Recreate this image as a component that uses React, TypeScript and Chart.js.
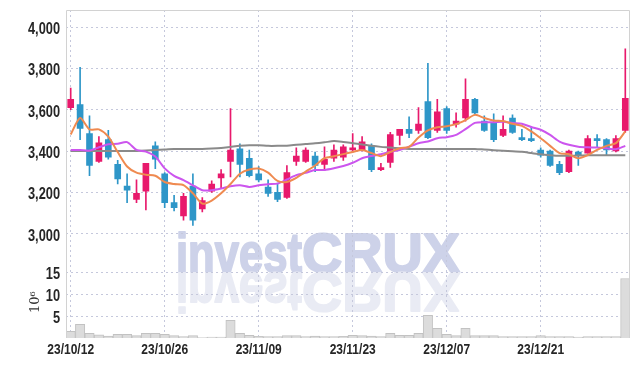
import React, { useEffect, useRef } from 'react';
import { Chart, registerables } from 'chart.js';

Chart.register(...registerables);

const dates = [
  '23/10/12', '23/10/13', '23/10/16', '23/10/17', '23/10/18', '23/10/19', '23/10/20', '23/10/23', '23/10/24', '23/10/25',
  '23/10/26', '23/10/27', '23/10/30', '23/10/31', '23/11/01', '23/11/02', '23/11/03', '23/11/06', '23/11/07', '23/11/08',
  '23/11/09', '23/11/10', '23/11/13', '23/11/14', '23/11/15', '23/11/16', '23/11/17', '23/11/20', '23/11/21', '23/11/22',
  '23/11/23', '23/11/24', '23/11/27', '23/11/28', '23/11/29', '23/11/30', '23/12/01', '23/12/04', '23/12/05', '23/12/06',
  '23/12/07', '23/12/08', '23/12/11', '23/12/12', '23/12/13', '23/12/14', '23/12/15', '23/12/18', '23/12/19', '23/12/20',
  '23/12/21', '23/12/22', '23/12/26', '23/12/27', '23/12/28', '24/01/02', '24/01/03', '24/01/04', '24/01/05', '24/01/08',
];

const opens = [3610, 3625, 3485, 3350, 3455, 3335, 3230, 3165, 3205, 3425, 3290, 3150, 3085, 3230, 3120, 3205, 3270, 3350, 3410, 3365, 3290, 3225, 3200, 3175, 3350, 3350, 3375, 3335, 3365, 3370, 3405, 3405, 3425, 3310, 3345, 3475, 3505, 3500, 3640, 3500, 3605, 3530, 3560, 3650, 3545, 3535, 3475, 3560, 3465, 3460, 3405, 3400, 3335, 3300, 3395, 3390, 3460, 3455, 3400, 3500];
const highs = [3705, 3805, 3570, 3470, 3500, 3355, 3290, 3260, 3340, 3445, 3295, 3185, 3195, 3290, 3175, 3255, 3310, 3605, 3435, 3405, 3325, 3260, 3245, 3330, 3415, 3415, 3395, 3420, 3430, 3430, 3485, 3470, 3435, 3340, 3490, 3505, 3565, 3610, 3825, 3650, 3615, 3585, 3750, 3655, 3570, 3580, 3570, 3575, 3505, 3515, 3415, 3405, 3350, 3405, 3400, 3475, 3480, 3460, 3475, 3895];
const lows = [3600, 3455, 3280, 3345, 3360, 3240, 3150, 3150, 3115, 3315, 3125, 3110, 3065, 3040, 3105, 3200, 3220, 3275, 3275, 3275, 3250, 3180, 3155, 3170, 3330, 3345, 3300, 3305, 3350, 3355, 3395, 3400, 3300, 3305, 3320, 3430, 3465, 3485, 3460, 3490, 3485, 3515, 3545, 3580, 3495, 3445, 3470, 3485, 3450, 3445, 3370, 3325, 3285, 3295, 3330, 3390, 3420, 3380, 3395, 3490];
const closes = [3650, 3510, 3330, 3440, 3370, 3265, 3210, 3195, 3340, 3360, 3150, 3125, 3180, 3065, 3160, 3240, 3290, 3405, 3335, 3280, 3260, 3195, 3165, 3295, 3375, 3405, 3330, 3360, 3405, 3420, 3415, 3445, 3310, 3320, 3480, 3505, 3485, 3530, 3465, 3590, 3500, 3545, 3650, 3585, 3500, 3455, 3505, 3490, 3455, 3450, 3380, 3330, 3295, 3400, 3380, 3460, 3450, 3405, 3460, 3655];

const maShort = [3480, 3560, 3505, 3505, 3470, 3395, 3325, 3295, 3285, 3280, 3250, 3240, 3235, 3195, 3145, 3160, 3195, 3240, 3290, 3310, 3315, 3295, 3255, 3250, 3270, 3300, 3330, 3365, 3375, 3385, 3395, 3405, 3390, 3375, 3395, 3413, 3420, 3465, 3500, 3515, 3520, 3530, 3550, 3575, 3560, 3548, 3545, 3532, 3522, 3495, 3462, 3425, 3390, 3384, 3365, 3380, 3405, 3425, 3438, 3495];
const maMid = [3405, 3405, 3402, 3418, 3433, 3435, 3443, 3405, 3397, 3373, 3316, 3280, 3259, 3234, 3210, 3210, 3218, 3229, 3234, 3226, 3234, 3239, 3242, 3262, 3283, 3294, 3308, 3308, 3316, 3327, 3343, 3365, 3376, 3384, 3396, 3405, 3421, 3438, 3446, 3462, 3467, 3478, 3506, 3536, 3539, 3539, 3542, 3536, 3532, 3516, 3503, 3478, 3446, 3430, 3421, 3418, 3417, 3413, 3409, 3425];
const maLong = [3400, 3400, 3400, 3400, 3400, 3400, 3400, 3400, 3402, 3405, 3407, 3410, 3410, 3410, 3410, 3412, 3415, 3420, 3425, 3428, 3428, 3425, 3425, 3426, 3430, 3434, 3437, 3442, 3448, 3444, 3438, 3432, 3425, 3420, 3417, 3413, 3410, 3410, 3410, 3410, 3410, 3410, 3410, 3410, 3407, 3404, 3401, 3399, 3396, 3390, 3384, 3380, 3377, 3377, 3378, 3379, 3380, 3380, 3380, 3380];

const volumes = [1.54, 3.14, 1.08, 0.7, 0.46, 0.85, 0.85, 0.55, 1.08, 1.08, 0.85, 0.55, 0.3, 0.55, 0.1, 0.2, 0.2, 4.06, 1.08, 0.6, 0.4, 0.3, 0.3, 0.55, 0.55, 0.3, 0.45, 0.3, 0.3, 0.4, 0.6, 0.55, 0.45, 0.35, 1.08, 0.6, 0.6, 1.08, 5.2, 2.2, 0.85, 0.55, 2.2, 0.55, 0.55, 0.55, 0.3, 0.3, 0.3, 0.3, 0.55, 0.35, 0.3, 0.3, 0.2, 0.35, 0.35, 0.3, 0.35, 13.6];

const priceTicks = [3000, 3200, 3400, 3600, 3800, 4000];
const volumeTicks = [5, 10, 15];
const dateTickStep = 10;

const UP = '#e8196c';
const DOWN = '#2e96c8';
const GRID = '#c5c8dc';
const LABEL_FONT_FAMILY = '"Liberation Sans", Arial, sans-serif';
const LABEL_SQUEEZE = 0.8;

const drawSqueezed = (ctx: any, text: string, x: number, y: number, align: string) => {
  ctx.save();
  ctx.translate(x, y);
  ctx.scale(LABEL_SQUEEZE, 1);
  ctx.textAlign = align;
  ctx.fillText(text, 0, 0);
  ctx.restore();
};

const decorPlugin = {
  id: 'decor',
  beforeDraw(chart: any) {
    const { ctx, chartArea } = chart;
    const base = chart.scales.yv.top;
    ctx.save();
    ctx.font = 'bold 56px "Liberation Sans", Arial, sans-serif';
    ctx.textBaseline = 'alphabetic';
    ctx.lineJoin = 'round';
    const parts = [
      { text: 'invest', x: chartArea.left + 110, w: 126 },
      { text: 'CRUX', x: chartArea.left + 236, w: 158 },
    ];
    for (const p of parts) {
      const m = ctx.measureText(p.text).width;
      const sx = p.w / m;
      ctx.save();
      ctx.translate(p.x, base);
      ctx.scale(sx, 1);
      ctx.fillStyle = '#cdd2e9';
      ctx.strokeStyle = '#cdd2e9';
      ctx.lineWidth = 2;
      ctx.fillText(p.text, 0, 0);
      ctx.strokeText(p.text, 0, 0);
      ctx.restore();
      ctx.save();
      ctx.translate(p.x, base + 1);
      ctx.scale(sx, -1);
      ctx.fillStyle = '#e9ebf4';
      ctx.strokeStyle = '#e9ebf4';
      ctx.lineWidth = 2;
      ctx.fillText(p.text, 0, 0);
      ctx.strokeText(p.text, 0, 0);
      ctx.restore();
    }
    ctx.restore();
  },
  afterDraw(chart: any) {
    const { ctx, chartArea } = chart;
    ctx.save();
    ctx.strokeStyle = '#d2d2d2';
    ctx.lineWidth = 1;
    ctx.beginPath();
    ctx.moveTo(chartArea.left + 0.5, chartArea.bottom);
    ctx.lineTo(chartArea.left + 0.5, chartArea.top + 0.5);
    ctx.lineTo(chartArea.right - 0.5, chartArea.top + 0.5);
    ctx.lineTo(chartArea.right - 0.5, chartArea.bottom);
    ctx.stroke();

    // tick labels
    ctx.fillStyle = '#262626';
    ctx.textBaseline = 'alphabetic';
    ctx.font = `bold 16px ${LABEL_FONT_FAMILY}`;
    const ys = chart.scales.y;
    for (const t of ys.ticks) {
      drawSqueezed(ctx, Number(t.value).toLocaleString('en-US'), ys.right - 6, ys.getPixelForValue(t.value) + 7, 'right');
    }
    const yv = chart.scales.yv;
    for (const t of yv.ticks) {
      drawSqueezed(ctx, String(t.value), yv.right - 6, yv.getPixelForValue(t.value) + 6.5, 'right');
    }
    const xs = chart.scales.x;
    ctx.font = `bold 15px ${LABEL_FONT_FAMILY}`;
    for (const t of xs.ticks) {
      drawSqueezed(ctx, String(xs.getLabelForValue(t.value)), xs.getPixelForValue(t.value), xs.top + 16, 'center');
    }

    // volume unit
    ctx.save();
    ctx.translate(38.5, (yv.top + yv.bottom) / 2 - 3);
    ctx.rotate(-Math.PI / 2);
    ctx.font = '13px "DejaVu Serif", serif';
    ctx.fillStyle = '#333';
    ctx.textAlign = 'center';
    ctx.fillText('10\u2076', 0, 0);
    ctx.restore();
    ctx.restore();
  },
};

export default function App() {
  const ref = useRef<HTMLCanvasElement | null>(null);

  useEffect(() => {
    if (!ref.current) return;
    const candleColors = closes.map((c, i) => (c >= opens[i] ? UP : DOWN));
    const chart = new Chart(ref.current, {
      type: 'bar',
      data: {
        labels: dates,
        datasets: [
          {
            type: 'line', label: 'MA short', data: maShort, yAxisID: 'y', order: 0,
            borderColor: '#ef8a50', borderWidth: 2, pointRadius: 0, tension: 0.25,
          } as any,
          {
            type: 'line', label: 'MA mid', data: maMid, yAxisID: 'y', order: 0,
            borderColor: '#cc55ee', borderWidth: 2, pointRadius: 0, tension: 0.25,
          } as any,
          {
            type: 'line', label: 'MA long', data: maLong, yAxisID: 'y', order: 0,
            borderColor: '#8a8a8a', borderWidth: 2, pointRadius: 0, tension: 0.25,
          } as any,
          {
            type: 'bar', label: 'body', data: opens.map((o, i) => [o, closes[i]]), yAxisID: 'y', order: 1,
            backgroundColor: candleColors, borderWidth: 0, barThickness: 6, grouped: false,
          } as any,
          {
            type: 'bar', label: 'wick', data: lows.map((l, i) => [l, highs[i]]), yAxisID: 'y', order: 2,
            backgroundColor: candleColors, borderWidth: 0, barThickness: 1, grouped: false,
          } as any,
          {
            type: 'bar', label: 'volume', data: volumes, yAxisID: 'yv', order: 3,
            backgroundColor: '#dcdcdc', borderColor: '#c2c2c2', borderWidth: 1,
            barPercentage: 1, categoryPercentage: 1, grouped: false,
          } as any,
        ],
      },
      options: {
        animation: false,
        responsive: false,
        maintainAspectRatio: false,
        layout: { padding: { top: 10, right: 9, left: 0, bottom: 0 } },
        plugins: { legend: { display: false }, tooltip: { enabled: false } },
        scales: {
          x: {
            type: 'category',
            offset: true,
            grid: { offset: false, color: GRID, drawTicks: false },
            border: { display: false, dash: [2, 3] },
            ticks: { display: false, autoSkip: false },
            afterBuildTicks: (s: any) => { s.ticks = s.ticks.filter((t: any) => t.value % dateTickStep === 0); },
            afterFit: (s: any) => { s.height = 28; },
          },
          y: {
            type: 'linear', position: 'left', stack: 'panes', stackWeight: 4, weight: 2,
            min: 2812, max: 4083,
            grid: { color: GRID, drawTicks: false },
            border: { display: false, dash: [2, 3] },
            ticks: { display: false, autoSkip: false },
            afterBuildTicks: (s: any) => { s.ticks = priceTicks.map((v) => ({ value: v })); },
            afterFit: (s: any) => { s.width = 66; },
          },
          yv: {
            type: 'linear', position: 'left', stack: 'panes', stackWeight: 1, weight: 1,
            min: 0, max: 15,
            grid: { color: GRID, drawTicks: false },
            border: { display: false, dash: [2, 3] },
            ticks: { display: false, autoSkip: false },
            afterBuildTicks: (s: any) => { s.ticks = volumeTicks.map((v) => ({ value: v })); },
            afterFit: (s: any) => { s.width = 66; },
          },
        },
      } as any,
      plugins: [decorPlugin],
    });
    return () => chart.destroy();
  }, []);

  return (
    <div style={{ position: 'absolute', left: 0, top: 0, width: 639, height: 366 }}>
      <canvas ref={ref} width={639} height={366} style={{ width: 639, height: 366, display: 'block' }} />
    </div>
  );
}
